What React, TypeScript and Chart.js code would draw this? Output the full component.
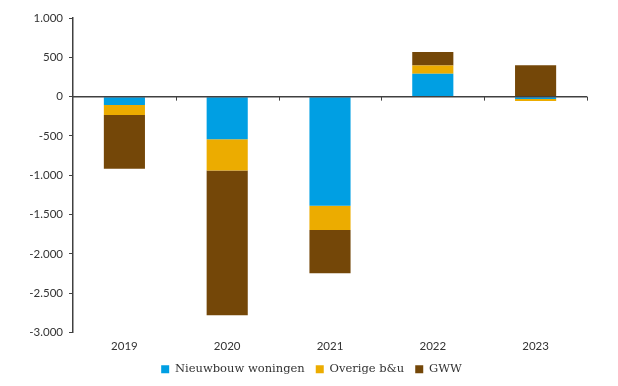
import React, { useEffect, useRef } from "react";
import { Chart, registerables } from "chart.js";

Chart.register(...registerables);

const categories = ["2019", "2020", "2021", "2022", "2023"];
const nieuwbouw = [-106, -541, -1389, 290, -30];
const overige = [-128, -397, -307, 106, -25];
const gww = [-682, -1842, -550, 171, 400];
const seriesNames = ["Nieuwbouw woningen", "Overige b&u", "GWW"];
const yMin = -3000;
const yMax = 1000;
const yStep = 500;

const colors = ["#009FE3", "#ECAC00", "#744708"];
const axisColor = "#404040";
const tickFamily = "Lato, 'Open Sans', sans-serif";

const fmt = (v: number) => {
  const s = Math.abs(v).toString().replace(/\B(?=(\d{3})+(?!\d))/g, ".");
  return (v < 0 ? "-" : "") + s;
};

const zeroLinePlugin = {
  id: "zeroLine",
  afterDatasetsDraw(chart: any) {
    const { ctx, chartArea, scales } = chart;
    const y0 = scales.y.getPixelForValue(0);
    const xs = scales.x;
    ctx.save();
    ctx.strokeStyle = axisColor;
    ctx.lineWidth = 1.5;
    ctx.beginPath();
    ctx.moveTo(chartArea.left, y0);
    ctx.lineTo(chartArea.right, y0);
    ctx.stroke();
    ctx.lineWidth = 1;
    const n = categories.length;
    const w = (chartArea.right - chartArea.left) / n;
    for (let i = 1; i <= n; i++) {
      const x = Math.round(xs.getPixelForValue(i - 1) + w / 2) + 0.5;
      ctx.beginPath();
      ctx.moveTo(x, y0);
      ctx.lineTo(x, y0 + 4);
      ctx.stroke();
    }
    ctx.restore();
  },
};

export default function App() {
  const ref = useRef<HTMLCanvasElement | null>(null);
  useEffect(() => {
    let chart: Chart | null = null;
    let cancelled = false;
    const make = () => {
      if (cancelled || !ref.current) return;
      chart = new Chart(ref.current, {
        type: "bar",
        data: {
          labels: categories,
          datasets: [nieuwbouw, overige, gww].map((d, i) => ({
            label: seriesNames[i],
            data: d,
            backgroundColor: colors[i],
            borderWidth: 0,
            categoryPercentage: 1,
            barPercentage: 0.4,
          })),
        },
        options: {
          responsive: false,
          animation: false,
          layout: { padding: { top: 18, right: 0, left: 5, bottom: 1 } },
          plugins: {
            tooltip: { enabled: false },
            legend: {
              position: "bottom",
              labels: {
                boxWidth: 8,
                boxHeight: 8,
                padding: 11,
                color: "#333",
                font: { family: "'DejaVu Serif', serif", size: 11.5 },
              },
            },
          },
          scales: {
            x: {
              stacked: true,
              grid: { display: false, drawTicks: false },
              border: { display: false },
              ticks: {
                padding: 8,
                color: "#333",
                font: { family: tickFamily, size: 11.5, lineHeight: 1 },
              },
              afterFit: (s: any) => {
                s.height = 20;
              },
            },
            y: {
              stacked: true,
              min: yMin,
              max: yMax,
              grid: {
                display: true,
                drawOnChartArea: false,
                drawTicks: true,
                tickLength: 4,
                color: axisColor,
              },
              border: { display: true, color: axisColor, width: 1.5 },
              ticks: {
                stepSize: yStep,
                padding: 6,
                color: "#333",
                font: { family: tickFamily, size: 11.5 },
                callback: (v: any) => fmt(Number(v)),
              },
              afterFit: (s: any) => {
                s.width = 68;
              },
            },
            yRight: {
              type: "linear",
              position: "right",
              display: true,
              min: yMin,
              max: yMax,
              grid: { display: false, drawTicks: false },
              border: { display: false },
              ticks: { display: false },
              afterFit: (s: any) => {
                s.width = 31;
              },
            },
          },
        },
        plugins: [zeroLinePlugin],
      });
    };
    Promise.all([
      document.fonts.load("11.5px Lato"),
      document.fonts.load("11.5px 'DejaVu Serif'"),
    ])
      .catch(() => {})
      .then(make);
    return () => {
      cancelled = true;
      if (chart) chart.destroy();
    };
  }, []);
  return (
    <div style={{ position: "absolute", left: 0, top: 0, width: 618, height: 386, background: "#fff" }}>
      <canvas ref={ref} width={618} height={386} style={{ display: "block" }} />
    </div>
  );
}
